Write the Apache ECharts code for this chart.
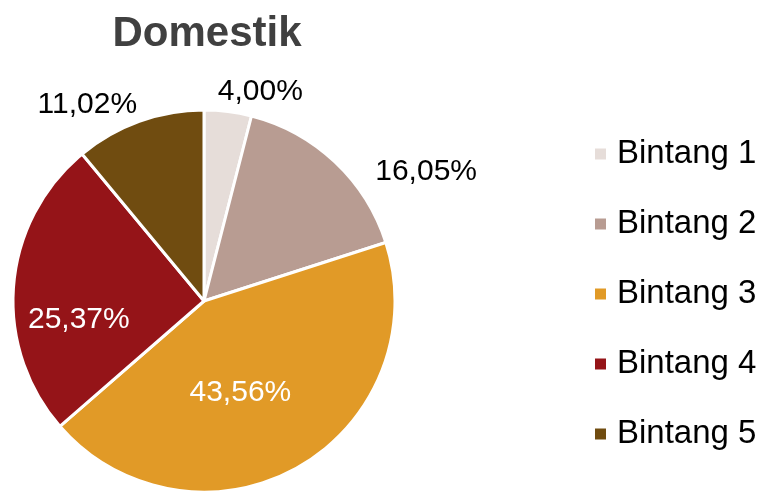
<!DOCTYPE html>
<html><head><meta charset="utf-8">
<script src="https://cdn.jsdelivr.net/npm/echarts@6/dist/echarts.min.js"></script>
<style>html,body{margin:0;padding:0;background:#fff}#c{width:772px;height:492px}</style>
</head><body><div id="c"></div>
<script>
const categories = ['Bintang 1','Bintang 2','Bintang 3','Bintang 4','Bintang 5'];
const values = [4.00, 16.05, 43.56, 25.37, 11.02];
const colors = ['#E6DDD9','#B89C92','#E19A27','#951418','#704C10'];
const labelPos = ['outside','outside','inside','inside','outside'];
const labelOffsets = [[-17,-5],[25,21],[-12,6],[-27,27],[8,-2]];

const FONT = '"Liberation Sans", Arial, sans-serif';
const chart = echarts.init(document.getElementById('c'));
const data = categories.map((n,i)=>({
  name:n, value:values[i],
  itemStyle:{color:colors[i]},
  label:{position:labelPos[i], offset:labelOffsets[i],
    color: labelPos[i]==='inside' ? '#ffffff' : '#000000'}
}));
chart.setOption({
  animation:false,
  title:{text:'Domestik', left:202, top:8, textAlign:'center',
    textStyle:{fontFamily:FONT, fontSize:42, fontWeight:'bold', color:'#404040'}},
  legend:{orient:'vertical', left:588, top:131, itemWidth:13, itemHeight:13, itemGap:34,
    icon:'rect', data:categories,
    textStyle:{fontFamily:FONT, fontSize:33, color:'#000', lineHeight:36, padding:[0,0,0,5]}},
  series:[{
    type:'pie', center:[204,301], radius:[0,191], startAngle:90, clockwise:true,
    avoidLabelOverlap:false,
    itemStyle:{borderColor:'#fff', borderWidth:3},
    label:{show:true, fontFamily:FONT, fontSize:30,
      formatter:p=>p.value.toFixed(2).replace('.',',')+'%'},
    labelLine:{show:false, length:15, length2:0},
    emphasis:{disabled:true},
    data:data
  }]
});
</script></body></html>
